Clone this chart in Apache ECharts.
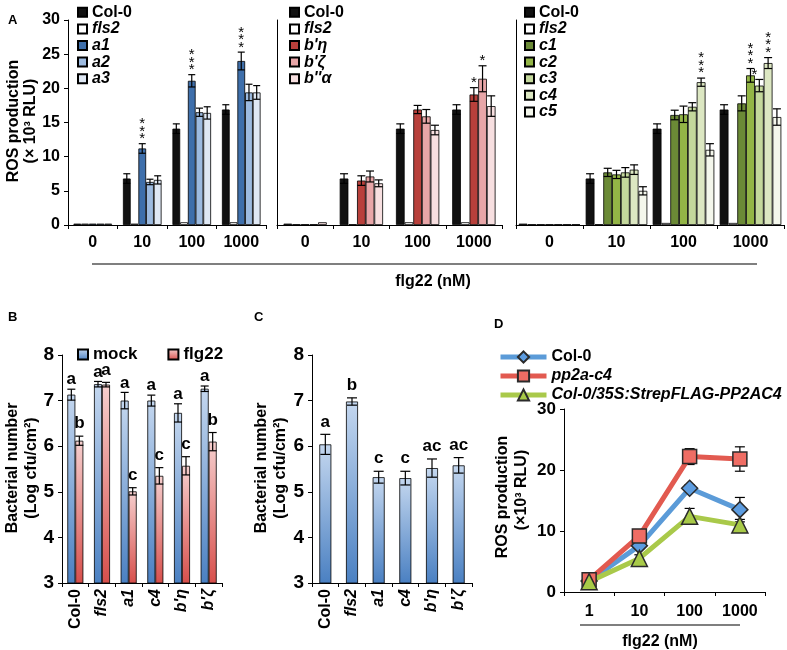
<!DOCTYPE html>
<html><head><meta charset="utf-8">
<script src="https://cdn.jsdelivr.net/npm/echarts@6/dist/echarts.min.js"></script>
<style>html,body{margin:0;padding:0;background:#fff}#c{width:787px;height:650px}</style>
</head><body><div id="c"></div><script>
// ---------- DATA ----------
const doses = ['0','10','100','1000'];
// Panel A (ROS, x10^3 RLU)
const colA = [0.2, 6.8, 14.1, 16.9], colAErr = [0, 0.7, 0.7, 0.7];
const fls2A1 = [0.2, 0.2, 0.4, 0.4];
const a1 = [0.2, 11.2, 21.1, 24.0], a1Err = [0, 0.7, 0.9, 1.3], a1Stars = [0, 3, 3, 3];
const a2 = [0.2, 6.3, 16.5, 19.4], a2Err = [0, 0.4, 0.6, 1.2];
const a3 = [0.2, 6.6, 16.4, 19.4], a3Err = [0, 0.6, 0.9, 1.0];
const fls2A2 = [0.1, 0.1, 0.4, 0.4];
const bEta = [0.1, 6.5, 16.9, 19.1], bEtaErr = [0, 0.7, 0.6, 1.0], bEtaStars = [0, 0, 0, 1];
const bZeta = [0.1, 7.1, 15.9, 21.4], bZetaErr = [0, 0.8, 1.0, 1.9], bZetaStars = [0, 0, 0, 1];
const bAlpha = [0.4, 6.1, 13.9, 17.4], bAlphaErr = [0, 0.5, 0.7, 1.5];
const fls2A3 = [0.1, 0.1, 0.3, 0.3];
const c1 = [0.1, 7.7, 16.1, 17.8], c1Err = [0, 0.6, 0.7, 1.1];
const c2 = [0.1, 7.4, 16.2, 21.9], c2Err = [0, 0.6, 1.2, 1.0], c2Stars = [0, 0, 0, 3];
const c3 = [0.1, 7.7, 17.3, 20.4], c3Err = [0, 0.7, 0.6, 0.9], c3Stars = [0, 0, 0, 1];
const c4 = [0.1, 8.1, 20.9, 23.7], c4Err = [0, 0.7, 0.6, 0.8], c4Stars = [0, 0, 3, 3];
const c5 = [0.1, 5.0, 11.0, 15.8], c5Err = [0, 0.6, 0.9, 1.2];
// Panel B/C (Log cfu/cm2)
const genotypes = ['Col-0', 'fls2', 'a1', 'c4', "b'η", "b'ζ"];
const mockB = [7.13, 7.36, 7.00, 7.00, 6.73, 7.26], mockBErr = [0.12, 0.06, 0.18, 0.12, 0.2, 0.06];
const mockBLetters = ['a', 'a', 'a', 'a', 'a', 'a'];
const flgB = [6.12, 7.35, 5.01, 5.35, 5.57, 6.10], flgBErr = [0.1, 0.05, 0.08, 0.18, 0.2, 0.2];
const flgBLetters = ['b', 'a', 'c', 'c', 'c', 'b'];
const valC = [6.04, 6.98, 5.32, 5.30, 5.52, 5.58], valCErr = [0.22, 0.08, 0.13, 0.15, 0.2, 0.17];
const lettersC = ['a', 'b', 'c', 'c', 'ac', 'ac'];
// Panel D (ROS)
const dDoses = ['1', '10', '100', '1000'];
const colD = [1.8, 7.6, 17.0, 13.5], colDErr = [0.3, 0.5, 0.6, 2.0];
const pp2aD = [2.0, 9.2, 22.2, 21.8], pp2aDErr = [0.3, 0.8, 1.3, 2.0];
const oxD = [1.7, 5.5, 12.4, 11.0], oxDErr = [0.3, 0.6, 1.3, 0.9];

// ---------- HELPERS ----------
const fam = '"Liberation Sans", Arial, sans-serif';
const black = '#000';
function starText(n) { return n ? Array(n).fill('*').join('\n') : ''; }
function errSeries(o) {
  return {
    type: 'custom', name: '_e', xAxisIndex: o.axis, yAxisIndex: o.axis, z: 10, silent: true, clip: false,
    data: o.vals.map((v, i) => [i, v, o.errs ? o.errs[i] : 0]),
    renderItem: function (params, api) {
      const ci = api.value(0), v = api.value(1), e = api.value(2);
      const band = api.size([1, 0])[0];
      let cx = api.coord([ci, v])[0];
      if (o.n > 1) { const bw = band * (1 - o.gap), w = bw / o.n; cx = cx - bw / 2 + (o.idx + 0.5) * w; }
      const yt = api.coord([ci, v + e])[1], yb = api.coord([ci, v - e])[1];
      const st = { stroke: '#000', lineWidth: 1.2 };
      const ch = [];
      if (e > 0) {
        ch.push({ type: 'line', shape: { x1: cx, y1: yt, x2: cx, y2: yb }, style: st });
        ch.push({ type: 'line', shape: { x1: cx - o.cap, y1: yt, x2: cx + o.cap, y2: yt }, style: st });
        ch.push({ type: 'line', shape: { x1: cx - o.cap, y1: yb, x2: cx + o.cap, y2: yb }, style: st });
      }
      const lab = o.labels ? o.labels[params.dataIndex] : '';
      if (lab) ch.push({ type: 'text', x: cx + (o.labDx || 0), y: yt - (o.labOff || 1),
        style: Object.assign({ text: lab, align: 'center', verticalAlign: 'bottom', textAlign: 'center', textVerticalAlign: 'bottom', fill: '#000' }, o.labStyle) });
      return { type: 'group', children: ch };
    }
  };
}
function bar(name, axis, data, color, gap) {
  return { type: 'bar', name: name, xAxisIndex: axis, yAxisIndex: axis, data: data, barGap: '0%', barCategoryGap: gap,
    itemStyle: { color: color, borderColor: '#000', borderWidth: 0.8 } };
}
const starStyle = { fontSize: 15, lineHeight: 7.5, fontFamily: fam, fontWeight: 'normal' };
const letStyle = { fontSize: 17, fontFamily: fam, fontWeight: 'bold' };
const ital = n => (n === 'Col-0' || n === 'mock' || n === 'flg22') ? n : '{i|' + n + '}';
const richI = s => ({ i: { fontStyle: 'italic', fontWeight: 'bold', fontSize: s, fontFamily: fam, color: '#000' } });
function legendA(left, data) {
  return { left: left, top: -1, orient: 'vertical', itemWidth: 9, itemHeight: 9, itemGap: 0, icon: 'rect', data: data,
    formatter: ital, selectedMode: false,
    textStyle: { fontFamily: fam, fontWeight: 'bold', fontSize: 16, color: '#000', lineHeight: 16.6, rich: richI(16) } };
}
function xCat(grid, data, extra) {
  return Object.assign({ type: 'category', gridIndex: grid, data: data,
    axisLine: { show: true, lineStyle: { color: black, width: 1 } },
    axisTick: { show: true, length: 4, lineStyle: { color: black } },
    axisLabel: { color: '#000', fontFamily: fam, fontWeight: 'bold', fontSize: 16, margin: 10 } }, extra || {});
}
function yVal(grid, min, max, interval, showLabels, fs) {
  return { type: 'value', gridIndex: grid, min: min, max: max, interval: interval,
    axisLine: { show: true, lineStyle: { color: black, width: 1 } },
    axisTick: { show: showLabels, length: 4, lineStyle: { color: black } },
    splitLine: { show: false },
    axisLabel: { show: showLabels, color: '#000', fontFamily: fam, fontWeight: 'bold', fontSize: fs || 16, margin: 8 } };
}
const gradBlue = new echarts.graphic.LinearGradient(0, 0, 0, 1, [{ offset: 0, color: '#c4d7ef' }, { offset: 1, color: '#4a80c2' }]);
const gradRed = new echarts.graphic.LinearGradient(0, 0, 0, 1, [{ offset: 0, color: '#f6cfce' }, { offset: 1, color: '#d74f4b' }]);

// ---------- OPTION ----------
const gA1 = '22%', gA2 = '23%', gA3 = '8%', gB = '40%';
const series = [
  // A1
  bar('Col-0', 0, colA, '#111', gA1), bar('fls2', 0, fls2A1, '#fff', gA1), bar('a1', 0, a1, '#3e6fab', gA1),
  bar('a2', 0, a2, '#9dbbe0', gA1), bar('a3', 0, a3, '#dfe8f4', gA1),
  errSeries({ axis: 0, idx: 0, n: 5, gap: 0.22, vals: colA, errs: colAErr, cap: 3.5 }),
  errSeries({ axis: 0, idx: 2, n: 5, gap: 0.22, vals: a1, errs: a1Err, cap: 3.5, labels: a1Stars.map(starText), labStyle: starStyle, labOff: 1 }),
  errSeries({ axis: 0, idx: 3, n: 5, gap: 0.22, vals: a2, errs: a2Err, cap: 3.5 }),
  errSeries({ axis: 0, idx: 4, n: 5, gap: 0.22, vals: a3, errs: a3Err, cap: 3.5 }),
  // A2
  bar('Col-0', 1, colA, '#111', gA2), bar('fls2', 1, fls2A2, '#fff', gA2), bar("b'η", 1, bEta, '#b8403b', gA2),
  bar("b'ζ", 1, bZeta, '#e8a6a8', gA2), bar("b''α", 1, bAlpha, '#f7dfe0', gA2),
  errSeries({ axis: 1, idx: 0, n: 5, gap: 0.23, vals: colA, errs: colAErr, cap: 4 }),
  errSeries({ axis: 1, idx: 2, n: 5, gap: 0.23, vals: bEta, errs: bEtaErr, cap: 4, labels: bEtaStars.map(starText), labStyle: starStyle, labOff: 1 }),
  errSeries({ axis: 1, idx: 3, n: 5, gap: 0.23, vals: bZeta, errs: bZetaErr, cap: 4, labels: bZetaStars.map(starText), labStyle: starStyle, labOff: 1 }),
  errSeries({ axis: 1, idx: 4, n: 5, gap: 0.23, vals: bAlpha, errs: bAlphaErr, cap: 4 }),
  // A3
  bar('Col-0', 2, colA, '#111', gA3), bar('fls2', 2, fls2A3, '#fff', gA3), bar('c1', 2, c1, '#6b8a36', gA3),
  bar('c2', 2, c2, '#93b546', gA3), bar('c3', 2, c3, '#c4d89c', gA3), bar('c4', 2, c4, '#dce7c2', gA3), bar('c5', 2, c5, '#f4f7ec', gA3),
  errSeries({ axis: 2, idx: 0, n: 7, gap: 0.08, vals: colA, errs: colAErr, cap: 4 }),
  errSeries({ axis: 2, idx: 2, n: 7, gap: 0.08, vals: c1, errs: c1Err, cap: 4 }),
  errSeries({ axis: 2, idx: 3, n: 7, gap: 0.08, vals: c2, errs: c2Err, cap: 4, labels: c2Stars.map(starText), labStyle: starStyle, labOff: 1 }),
  errSeries({ axis: 2, idx: 4, n: 7, gap: 0.08, vals: c3, errs: c3Err, cap: 4, labels: c3Stars.map(starText), labStyle: starStyle, labOff: 1, labDx: -5 }),
  errSeries({ axis: 2, idx: 5, n: 7, gap: 0.08, vals: c4, errs: c4Err, cap: 4, labels: c4Stars.map(starText), labStyle: starStyle, labOff: 1 }),
  errSeries({ axis: 2, idx: 6, n: 7, gap: 0.08, vals: c5, errs: c5Err, cap: 4 }),
  // B
  bar('mock', 3, mockB, gradBlue, gB), bar('flg22', 3, flgB, gradRed, gB),
  errSeries({ axis: 3, idx: 0, n: 2, gap: 0.4, vals: mockB, errs: mockBErr, cap: 4, labels: mockBLetters, labStyle: letStyle, labOff: 1 }),
  errSeries({ axis: 3, idx: 1, n: 2, gap: 0.4, vals: flgB, errs: flgBErr, cap: 4, labels: flgBLetters, labStyle: letStyle, labOff: 4 }),
  // C
  { type: 'bar', name: 'C', xAxisIndex: 4, yAxisIndex: 4, data: valC, barWidth: 12,
    itemStyle: { color: gradBlue, borderColor: '#000', borderWidth: 0.8 } },
  errSeries({ axis: 4, idx: 0, n: 1, gap: 0, vals: valC, errs: valCErr, cap: 5, labels: lettersC, labStyle: letStyle, labOff: 4 }),
  // D
  errSeries({ axis: 5, idx: 0, n: 1, gap: 0, vals: colD, errs: colDErr, cap: 5 }),
  errSeries({ axis: 5, idx: 0, n: 1, gap: 0, vals: pp2aD, errs: pp2aDErr, cap: 5 }),
  errSeries({ axis: 5, idx: 0, n: 1, gap: 0, vals: oxD, errs: oxDErr, cap: 5 }),
];
series.filter(s => s.type === 'custom' && s.xAxisIndex === 5).forEach(s => s.z = 1);
const lineD = (name, data, color, fill, symbol, size) => ({
  type: 'line', name: name, xAxisIndex: 5, yAxisIndex: 5, data: data, symbol: symbol, symbolSize: size, z: 3,
  lineStyle: { color: color, width: 5 }, itemStyle: { color: fill, borderColor: '#2b2b2b', borderWidth: 1.5 }
});
series.push(lineD('Col-0 ', colD, '#5b9bd8', '#5c9ce0', 'diamond', 16));
series.push(lineD('pp2a-c4', pp2aD, '#e25a50', '#ef6d64', 'rect', 14));
series.push(lineD('Col-0/35S:StrepFLAG-PP2AC4', oxD, '#a9c94a', '#a8ca48', 'triangle', 16));

const bcLabel = { rotate: 90, margin: 6, fontSize: 16, formatter: ital, rich: richI(16) };
const option = {
  animation: false,
  grid: [
    { left: 68, top: 20, width: 198, height: 205 },
    { left: 277, top: 20, width: 225, height: 205 },
    { left: 516, top: 20, width: 268, height: 205 },
    { left: 62, top: 355, width: 160, height: 228 },
    { left: 312, top: 355, width: 160, height: 228 },
    { left: 564, top: 409, width: 201, height: 183 }
  ],
  xAxis: [
    xCat(0, doses), xCat(1, doses), xCat(2, doses),
    xCat(3, genotypes, { axisLabel: Object.assign({ color: '#000', fontFamily: fam, fontWeight: 'bold' }, bcLabel) }),
    xCat(4, genotypes, { axisLabel: Object.assign({ color: '#000', fontFamily: fam, fontWeight: 'bold' }, bcLabel) }),
    xCat(5, dDoses, { axisLabel: { color: '#000', fontFamily: fam, fontWeight: 'bold', fontSize: 16, margin: 12 } })
  ],
  yAxis: [
    yVal(0, 0, 30, 5, true, 16), yVal(1, 0, 30, 5, false), yVal(2, 0, 30, 5, false),
    yVal(3, 3, 8, 1, true, 19), yVal(4, 3, 8, 1, true, 19), yVal(5, 0, 30, 10, true, 17)
  ],
  legend: [
    legendA(72, ['Col-0', 'fls2', 'a1', 'a2', 'a3']),
    legendA(284, ['Col-0', 'fls2', "b'η", "b'ζ", "b''α"]),
    legendA(519, ['Col-0', 'fls2', 'c1', 'c2', 'c3', 'c4', 'c5']),
    { left: 72, top: 341, orient: 'horizontal', itemWidth: 10, itemHeight: 10, itemGap: 30, icon: 'rect', selectedMode: false,
      data: ['mock', 'flg22'], textStyle: { fontFamily: fam, fontWeight: 'bold', fontSize: 17, color: '#000' } },
    { left: 493, top: 344, orient: 'vertical', itemWidth: 46, itemHeight: 14, itemGap: 3, selectedMode: false,
      lineStyle: { width: 5 },
      data: ['Col-0 ', 'pp2a-c4', 'Col-0/35S:StrepFLAG-PP2AC4'],
      formatter: n => n === 'Col-0 ' ? 'Col-0' : '{i|' + n + '}',
      textStyle: { fontFamily: fam, fontWeight: 'bold', fontSize: 16, color: '#000', rich: richI(16) } }
  ],
  graphic: [
    { type: 'text', x: 8, y: 14, style: { text: 'A', font: 'bold 13px ' + fam, fill: '#000' } },
    { type: 'text', x: 8, y: 311, style: { text: 'B', font: 'bold 13px ' + fam, fill: '#000' } },
    { type: 'text', x: 254, y: 311, style: { text: 'C', font: 'bold 13px ' + fam, fill: '#000' } },
    { type: 'text', x: 494, y: 318, style: { text: 'D', font: 'bold 13px ' + fam, fill: '#000' } },
    { type: 'text', x: 14, y: 121, rotation: Math.PI / 2, style: { text: 'ROS production', font: 'bold 16px ' + fam, fill: '#000', align: 'center', verticalAlign: 'middle', textAlign: 'center', textVerticalAlign: 'middle' } },
    { type: 'text', x: 31, y: 121, rotation: Math.PI / 2, style: { text: '(× 10³ RLU)', font: 'bold 16px ' + fam, fill: '#000', align: 'center', verticalAlign: 'middle', textAlign: 'center', textVerticalAlign: 'middle' } },
    { type: 'text', x: 13, y: 468, rotation: Math.PI / 2, style: { text: 'Bacterial number', font: 'bold 16px ' + fam, fill: '#000', align: 'center', verticalAlign: 'middle', textAlign: 'center', textVerticalAlign: 'middle' } },
    { type: 'text', x: 32, y: 468, rotation: Math.PI / 2, style: { text: '(Log cfu/cm²)', font: 'bold 16px ' + fam, fill: '#000', align: 'center', verticalAlign: 'middle', textAlign: 'center', textVerticalAlign: 'middle' } },
    { type: 'text', x: 262, y: 468, rotation: Math.PI / 2, style: { text: 'Bacterial number', font: 'bold 16px ' + fam, fill: '#000', align: 'center', verticalAlign: 'middle', textAlign: 'center', textVerticalAlign: 'middle' } },
    { type: 'text', x: 281, y: 468, rotation: Math.PI / 2, style: { text: '(Log cfu/cm²)', font: 'bold 16px ' + fam, fill: '#000', align: 'center', verticalAlign: 'middle', textAlign: 'center', textVerticalAlign: 'middle' } },
    { type: 'text', x: 503, y: 497, rotation: Math.PI / 2, style: { text: 'ROS production', font: 'bold 16px ' + fam, fill: '#000', align: 'center', verticalAlign: 'middle', textAlign: 'center', textVerticalAlign: 'middle' } },
    { type: 'text', x: 522, y: 490, rotation: Math.PI / 2, style: { text: '(×10³ RLU)', font: 'bold 16px ' + fam, fill: '#000', align: 'center', verticalAlign: 'middle', textAlign: 'center', textVerticalAlign: 'middle' } },
    { type: 'line', shape: { x1: 92, y1: 264, x2: 757, y2: 264 }, style: { stroke: '#000', lineWidth: 1.2 } },
    { type: 'text', x: 433, y: 282, style: { text: 'flg22 (nM)', font: 'bold 16px ' + fam, fill: '#000', align: 'center', verticalAlign: 'middle', textAlign: 'center', textVerticalAlign: 'middle' } },
    { type: 'line', shape: { x1: 580, y1: 625, x2: 740, y2: 625 }, style: { stroke: '#000', lineWidth: 1.2 } },
    { type: 'text', x: 660, y: 642, style: { text: 'flg22 (nM)', font: 'bold 16px ' + fam, fill: '#000', align: 'center', verticalAlign: 'middle', textAlign: 'center', textVerticalAlign: 'middle' } }
  ],
  series: series
};
const chart = echarts.init(document.getElementById('c'), null, { renderer: 'canvas' });
chart.setOption(option);
</script></body></html>
